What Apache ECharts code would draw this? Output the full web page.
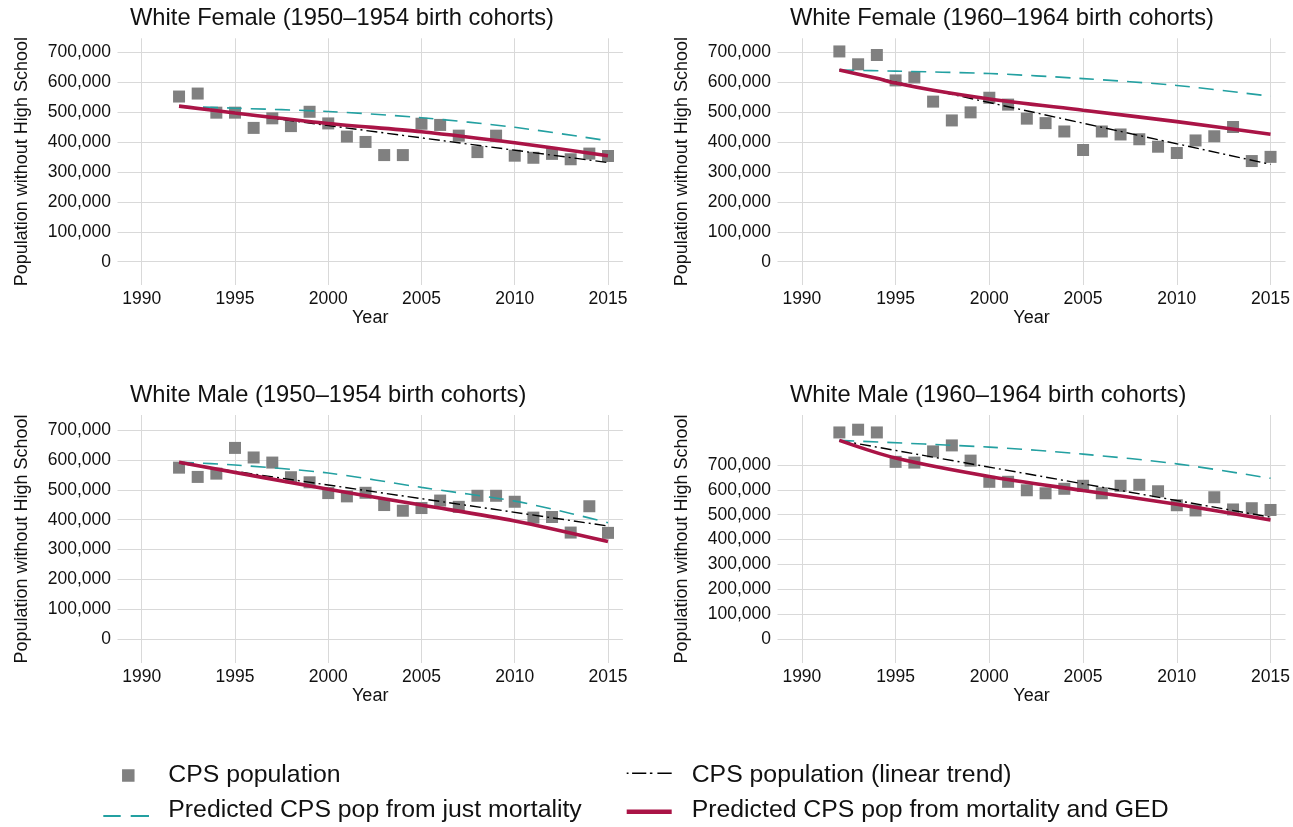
<!DOCTYPE html>
<html>
<head>
<meta charset="utf-8">
<script src="https://cdn.jsdelivr.net/npm/echarts@6/dist/echarts.min.js"></script>
<style>
  html, body { margin: 0; padding: 0; background: #ffffff; }
  #chart { width: 1293px; height: 827px; }
</style>
</head>
<body>
<div id="chart"></div>
<script>
// Survey years shared by every panel
const years = [1992, 1993, 1994, 1995, 1996, 1997, 1998, 1999, 2000, 2001, 2002, 2003,
               2004, 2005, 2006, 2007, 2008, 2009, 2010, 2011, 2012, 2013, 2014, 2015];

// Tick labels
const xTicks = [1990, 1995, 2000, 2005, 2010, 2015];
const yTicks = [0, 100000, 200000, 300000, 400000, 500000, 600000, 700000];

// Panel titles
const titles = [
  'White Female (1950\u20131954 birth cohorts)',
  'White Female (1960\u20131964 birth cohorts)',
  'White Male (1950\u20131954 birth cohorts)',
  'White Male (1960\u20131964 birth cohorts)'
];

// Series names
const NAME_CPS = 'CPS population';
const NAME_TREND = 'CPS population (linear trend)';
const NAME_MORT = 'Predicted CPS pop from just mortality';
const NAME_GED = 'Predicted CPS pop from mortality and GED';

// White female, 1950-1954 cohorts
const wf50Cps = [553000, 563000, 499000, 499000, 448000, 480000, 454000, 502000, 463000, 419000, 401000, 357000,
                 357000, 462000, 458000, 422000, 367000, 422000, 355000, 348000, 361000, 343000, 362000, 354000];
const wf50Trend = [[1992, 522000], [2015, 332000]];
const wf50Mort = [[1992, 520000], [1995, 514000], [2000, 503000], [2005, 482000], [2010, 450000], [2015, 405000]];
const wf50Ged = [[1992, 521000], [1995, 498000], [2000, 463000], [2005, 435000], [2010, 398000], [2015, 355000]];

// White female, 1960-1964 cohorts
const wf60Cps = [704000, 661000, 692000, 607000, 617000, 536000, 473000, 500000, 549000, 526000, 479000, 464000,
                 436000, 374000, 436000, 426000, 410000, 385000, 364000, 406000, 420000, 451000, 337000, 351000];
const wf60Trend = [[1992, 643000], [2015, 326000]];
const wf60Mort = [[1992, 642000], [1995, 638000], [2000, 630000], [2005, 613000], [2010, 590000], [2015, 554000]];
const wf60Ged = [[1992, 642000], [1994, 614000], [1995, 598000], [1997, 574000], [2000, 545000], [2005, 507000],
                 [2010, 469000], [2015, 427000]];

// White male, 1950-1954 cohorts
const wm50Cps = [574000, 543000, 554000, 640000, 608000, 591000, 542000, 525000, 489000, 478000, 490000, 449000,
                 430000, 439000, 464000, 443000, 480000, 480000, 460000, 407000, 409000, 357000, 445000, 356000];
const wm50Trend = [[1992, 589000], [2015, 379000]];
const wm50Mort = [[1992, 592000], [1995, 583000], [2000, 556000], [2005, 508000], [2010, 462000], [2013, 421000],
                  [2015, 390000]];
const wm50Ged = [[1992, 592000], [2000, 502000], [2005, 449000], [2010, 396000], [2015, 327000]];

// White male, 1960-1964 cohorts
const wm60Cps = [830000, 841000, 830000, 712000, 709000, 754000, 778000, 717000, 632000, 632000, 598000, 586000,
                 604000, 616000, 586000, 616000, 620000, 594000, 538000, 517000, 570000, 521000, 526000, 519000];
const wm60Trend = [[1992, 798000], [2015, 490000]];
const wm60Mort = [[1992, 798000], [2000, 771000], [2005, 743000], [2010, 704000], [2015, 646000]];
const wm60Ged = [[1992, 798000], [1995, 727000], [2000, 653000], [2005, 597000], [2010, 542000], [2015, 479000]];

const FONT = '"Liberation Sans", Arial, Helvetica, sans-serif';
const INK = '#111111';
const GRID_GREY = '#d9d9d9';
const SQUARE_GREY = '#808080';
const TEAL = '#23a0a1';
const CRANBERRY = '#aa1446';

// Plot areas and value ranges of the four panels
const panels = [
  { left: 117.5, top: 38.3, width: 505.4, height: 246.7, yMin: -78000, yMax: 748000,
    cps: wf50Cps, trend: wf50Trend, mort: wf50Mort, ged: wf50Ged, titleLeft: 130, titleTop: 6.5 },
  { left: 777.5, top: 38.3, width: 512.5, height: 246.7, yMin: -78000, yMax: 748000,
    cps: wf60Cps, trend: wf60Trend, mort: wf60Mort, ged: wf60Ged, titleLeft: 790, titleTop: 6.5 },
  { left: 117.5, top: 415, width: 505.4, height: 248, yMin: -79000, yMax: 750000,
    cps: wm50Cps, trend: wm50Trend, mort: wm50Mort, ged: wm50Ged, titleLeft: 130, titleTop: 383.7 },
  { left: 777.5, top: 415, width: 512.5, height: 248, yMin: -95000, yMax: 900000,
    cps: wm60Cps, trend: wm60Trend, mort: wm60Mort, ged: wm60Ged, titleLeft: 790, titleTop: 383.7 }
];

const withCommas = v => String(v).replace(/\B(?=(\d{3})+(?!\d))/g, ',');
const plainYear = v => String(v);

const grids = [], xAxes = [], yAxes = [], series = [], titleList = [];

panels.forEach((p, i) => {
  grids.push({ left: p.left, top: p.top, width: p.width, height: p.height, containLabel: false });

  titleList.push({
    text: titles[i], left: p.titleLeft, top: p.titleTop, padding: 0,
    textStyle: { fontFamily: FONT, fontSize: 23.7, fontWeight: 'normal', color: INK, lineHeight: 24 }
  });

  xAxes.push({
    gridIndex: i, type: 'value', min: 1988.7, max: 2015.8,
    name: 'Year', nameLocation: 'middle', nameGap: 24,
    nameTextStyle: { fontFamily: FONT, fontSize: 18, color: INK },
    axisLine: { show: false },
    axisTick: { show: false, customValues: xTicks },
    axisLabel: { customValues: xTicks, fontFamily: FONT, fontSize: 17.5, color: INK, margin: 5,
                 formatter: plainYear },
    splitLine: { show: true, lineStyle: { color: GRID_GREY, width: 1 } }
  });

  yAxes.push({
    gridIndex: i, type: 'value', min: p.yMin, max: p.yMax,
    name: 'Population without High School', nameLocation: 'middle', nameGap: 86,
    nameTextStyle: { fontFamily: FONT, fontSize: 18, color: INK },
    axisLine: { show: false },
    axisTick: { show: false, customValues: yTicks },
    axisLabel: { customValues: yTicks, fontFamily: FONT, fontSize: 17.5, color: INK, margin: 6.5,
                 formatter: withCommas },
    splitLine: { show: true, lineStyle: { color: GRID_GREY, width: 1 } }
  });

  series.push(
    {
      name: NAME_CPS, type: 'scatter', xAxisIndex: i, yAxisIndex: i,
      symbol: 'rect', symbolSize: 12, itemStyle: { color: SQUARE_GREY, opacity: 1 },
      data: years.map((y, k) => [y, p.cps[k]])
    },
    {
      name: NAME_TREND, type: 'line', xAxisIndex: i, yAxisIndex: i, symbol: 'none',
      itemStyle: { color: '#000000' },
      lineStyle: { color: '#000000', width: 1.4, type: [11, 4, 2, 4] },
      data: p.trend
    },
    {
      name: NAME_MORT, type: 'line', xAxisIndex: i, yAxisIndex: i, symbol: 'none', smooth: 0.3,
      itemStyle: { color: TEAL },
      lineStyle: { color: TEAL, width: 1.6, type: [15, 9] },
      data: p.mort
    },
    {
      name: NAME_GED, type: 'line', xAxisIndex: i, yAxisIndex: i, symbol: 'none', smooth: 0.3,
      itemStyle: { color: CRANBERRY },
      lineStyle: { color: CRANBERRY, width: 3.6 },
      data: p.ged
    }
  );
});

// Legend keys, each drawn in a 60 x 14 box
const ICON_SQUARE = 'path://M0,0L0.01,0M60,14L60.01,14M18.75,0.75L31.25,0.75L31.25,13.25L18.75,13.25Z';
const ICON_DASHED = 'path://M0,0L0.01,0M60,14L60.01,14M0,11.5L17.4,11.5L17.4,13.5L0,13.5ZM27.4,11.5L45.7,11.5L45.7,13.5L27.4,13.5Z';
const ICON_DASHDOT = 'path://M0,0L0.01,0M60,14L60.01,14M0,4.1L1.8,4.1L1.8,5.6L0,5.6ZM5.4,4.1L19.6,4.1L19.6,5.6L5.4,5.6ZM23.2,4.1L25.7,4.1L25.7,5.6L23.2,5.6ZM30.7,4.1L45,4.1L45,5.6L30.7,5.6Z';
const ICON_SOLID = 'path://M0,0L0.01,0M60,14L60.01,14M0,6L45,6L45,10.5L0,10.5Z';

const legendBase = {
  orient: 'vertical', top: 762.5, padding: 0, itemGap: 9, itemWidth: 60, itemHeight: 14,
  selectedMode: false,
  itemStyle: { borderWidth: 0 },
  textStyle: { fontFamily: FONT, fontSize: 24.8, color: INK, lineHeight: 26 }
};

const option = {
  animation: false,
  backgroundColor: '#ffffff',
  title: titleList,
  grid: grids,
  xAxis: xAxes,
  yAxis: yAxes,
  legend: [
    Object.assign({}, legendBase, {
      left: 103.3,
      data: [
        { name: NAME_CPS, icon: ICON_SQUARE, itemStyle: { color: SQUARE_GREY, borderWidth: 0, opacity: 1 } },
        { name: NAME_MORT, icon: ICON_DASHED, itemStyle: { color: TEAL, borderWidth: 0 } }
      ]
    }),
    Object.assign({}, legendBase, {
      left: 626.7,
      data: [
        { name: NAME_TREND, icon: ICON_DASHDOT, itemStyle: { color: '#000000', borderWidth: 0 } },
        { name: NAME_GED, icon: ICON_SOLID, itemStyle: { color: CRANBERRY, borderWidth: 0 } }
      ]
    })
  ],
  series: series
};

const chart = echarts.init(document.getElementById('chart'), null, { renderer: 'canvas' });
chart.setOption(option);
</script>
</body>
</html>
